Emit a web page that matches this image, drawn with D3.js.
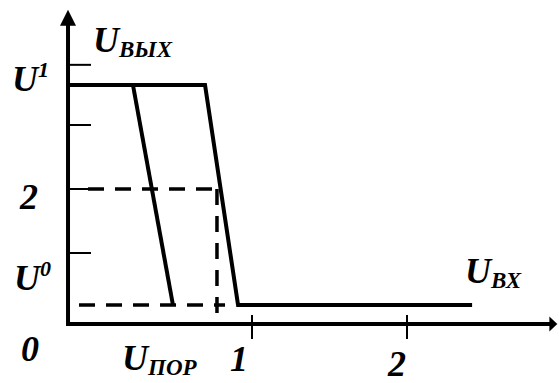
<!DOCTYPE html>
<html><head><meta charset="utf-8">
<script src="https://cdn.jsdelivr.net/npm/d3@7"></script>
<style>
html,body{margin:0;padding:0;background:#fff;}
</style></head>
<body>
<svg id="chart" width="559" height="383"></svg>
<script>
// ---- data (schematic units: x ticks 1,2 ; y tick "2" at 2) ----
const xAxisExtent = [-0.187, 2.97];
const yAxisExtent = [-0.11, 4.80];
const yTickValues = [1, 2, 3, 3.94];
const xTickValues = [1, 2];
const xTickLabels = ["1", "2"];
const yTickLabelValues = [2];
const yTickLabels = ["2"];
const highLevel = 3.625;     // U^1
const lowLevel = 0.1875;     // U^0
const thresholdX = 0.774;    // U_пор
const thresholdY = 2;
// transfer characteristic (right curve)
const curveMainX = [-0.187, 0.697, 0.910, 2.42];
const curveMainY = [highLevel, highLevel, lowLevel, lowLevel];
// second (left) transition line
const curveLeftX = [0.232, 0.490];
const curveLeftY = [highLevel, lowLevel];
// dashed guide lines
const dashH1X = [-0.058, thresholdX];
const dashH2X = [-0.116, 0.826];
const dashVY = [thresholdY, 0.0625];

const svg = d3.select("#chart");
const x = d3.scaleLinear().domain([1, 2]).range([252, 407]);
const y = d3.scaleLinear().domain([1, 2]).range([253, 189]);

const line = d3.line().x(d => x(d[0])).y(d => y(d[1]));

// axes
const x0 = x(xAxisExtent[0]), yB = y(yAxisExtent[0]);
svg.append("line").attr("x1", x0).attr("x2", x(xAxisExtent[1]) - 6)
  .attr("y1", yB).attr("y2", yB).attr("stroke", "#000").attr("stroke-width", 4);
svg.append("line").attr("x1", x0).attr("x2", x0)
  .attr("y1", yB + 2).attr("y2", y(yAxisExtent[1]) + 8).attr("stroke", "#000").attr("stroke-width", 4);
// arrowheads
const xe = x(xAxisExtent[1]), yt = y(yAxisExtent[1]);
svg.append("path").attr("d", `M${xe},${yB} L${xe-8},${yB-7.5} L${xe-8},${yB+7.5} Z`).attr("fill", "#000");
svg.append("path").attr("d", `M${x0},${yt} L${x0-8},${yt+16} L${x0+8},${yt+16} Z`).attr("fill", "#000");

// y ticks
svg.selectAll(".yt").data(yTickValues).enter().append("line")
  .attr("x1", x0).attr("x2", x0 + 23).attr("y1", d => y(d)).attr("y2", d => y(d))
  .attr("stroke", "#000").attr("stroke-width", 2);
// x ticks
svg.selectAll(".xt").data(xTickValues).enter().append("line")
  .attr("x1", d => x(d)).attr("x2", d => x(d)).attr("y1", yB - 9).attr("y2", yB + 15)
  .attr("stroke", "#000").attr("stroke-width", 2);

// dashed lines
const dashStyle = s => s.attr("fill", "none").attr("stroke", "#000").attr("stroke-width", 3.5).attr("stroke-dasharray", "16,11");
dashStyle(svg.append("path").attr("d", line([[dashH1X[0], thresholdY], [dashH1X[1], thresholdY]])));
dashStyle(svg.append("path").attr("d", line([[dashH2X[0], lowLevel], [dashH2X[1], lowLevel]])));
dashStyle(svg.append("path").attr("d", line([[thresholdX, dashVY[0]], [thresholdX, dashVY[1]]])));

// curves
svg.append("path").attr("d", line(curveMainX.map((v, i) => [v, curveMainY[i]])))
  .attr("fill", "none").attr("stroke", "#000").attr("stroke-width", 4).attr("stroke-linejoin", "miter");
svg.append("path").attr("d", line(curveLeftX.map((v, i) => [v, curveLeftY[i]])))
  .attr("fill", "none").attr("stroke", "#000").attr("stroke-width", 4);

// labels
function txt(xp, yp, size) {
  return svg.append("text").attr("x", xp).attr("y", yp)
    .attr("font-family", "Liberation Serif").attr("font-weight", "bold").attr("font-style", "italic")
    .attr("font-size", size).attr("fill", "#000");
}
function label(xp, yp, main, sub, sup) {
  const t = txt(xp, yp, 36);
  t.append("tspan").text(main);
  if (sub) t.append("tspan").attr("dy", 5).attr("font-size", 23).text(sub);
  if (sup) t.append("tspan").attr("dy", -14).attr("font-size", 22).text(sup);
}
label(12, 91, "U", null, "1");
label(93, 52, "U", "ВЫХ", null);
label(14, 290, "U", null, "0");
label(21, 361, "0", null, null);
label(122, 370, "U", "ПОР", null);
label(465, 283, "U", "ВХ", null);
xTickValues.forEach((v, i) => {
  txt(x(v) - 22 + i * 3, 371 + i * 5, 36).text(xTickLabels[i]);
});
yTickLabelValues.forEach((v, i) => {
  txt(20, y(v) + 20, 36).text(yTickLabels[i]);
});
</script>
</body></html>
